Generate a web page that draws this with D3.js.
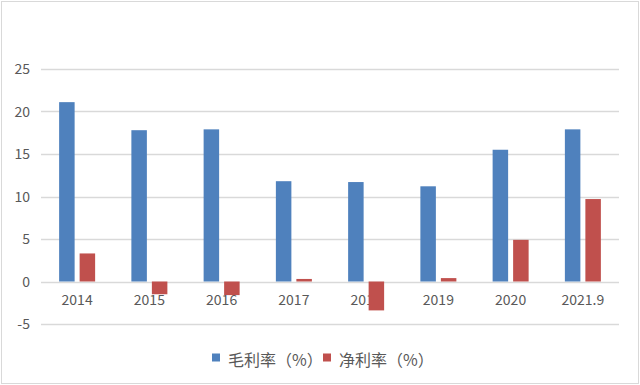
<!DOCTYPE html>
<html>
<head>
<meta charset="utf-8">
<script src="https://cdn.jsdelivr.net/npm/d3@7"></script>
<style>
  body { margin: 0; background: #fff; }
  svg text { font-family: "Noto Sans CJK SC", "Noto Sans", sans-serif; fill: #595959; }
</style>
</head>
<body>
<svg class="chart" width="640" height="385"></svg>
<script>
const years = ['2014', '2015', '2016', '2017', '2018', '2019', '2020', '2021.9']
const grossMargin = [21.1, 17.8, 17.9, 11.8, 11.7, 11.2, 15.5, 17.9]
const netMargin = [3.3, -1.5, -1.6, 0.3, -3.4, 0.4, 4.9, 9.7]
const yTicks = [-5, 0, 5, 10, 15, 20, 25]
const seriesNames = ['毛利率（%）', '净利率（%）']
const colors = ['#4F81BD', '#C0504D']

const svg = d3.select('svg.chart')

// outer frame
svg.append('rect')
  .attr('x', 1.5).attr('y', 1.5)
  .attr('width', 637).attr('height', 382)
  .attr('fill', '#fff')
  .attr('stroke', '#D9D9D9')

const x = d3.scaleBand().domain(years).range([41, 619])
const y = d3.scaleLinear().domain([-5, 25]).range([324, 69])

// gridlines
svg.append('g')
  .selectAll('line')
  .data(yTicks)
  .enter()
  .append('line')
  .attr('x1', 41).attr('x2', 619)
  .attr('y1', d => Math.round(y(d)) + 0.5)
  .attr('y2', d => Math.round(y(d)) + 0.5)
  .attr('stroke', '#D9D9D9')
  .attr('stroke-width', 1.3)

svg.append('g')
  .selectAll('text')
  .data(yTicks)
  .enter()
  .append('text')
  .attr('x', 30)
  .attr('y', d => y(d) + 5)
  .attr('text-anchor', 'end')
  .style('font-size', '14px')
  .text(d => d)

// category labels (under the bars, like the original)
svg.append('g')
  .selectAll('text')
  .data(years)
  .enter()
  .append('text')
  .attr('x', d => x(d) + x.bandwidth() / 2)
  .attr('y', 305)
  .attr('text-anchor', 'middle')
  .style('font-size', '14px')
  .text(d => d)

const barW = 15.5
const barGap = 5
const series = [grossMargin, netMargin]

series.forEach((vals, s) => {
  svg.append('g')
    .selectAll('rect')
    .data(vals)
    .enter()
    .append('rect')
    .attr('x', (d, i) => x(years[i]) + x.bandwidth() / 2 - barW - barGap / 2 + s * (barW + barGap))
    .attr('y', d => y(Math.max(d, 0)))
    .attr('width', barW)
    .attr('height', d => Math.abs(y(d) - y(0)))
    .attr('fill', colors[s])
})

// legend
const legend = svg.append('g')
  .selectAll('g')
  .data(seriesNames)
  .enter()
  .append('g')
  .attr('transform', (d, i) => `translate(${212 + i * 111},357.5)`)

legend.append('rect')
  .attr('x', 0).attr('y', -4)
  .attr('width', 8).attr('height', 8)
  .attr('fill', (d, i) => colors[i])

legend.append('text')
  .attr('x', 16)
  .attr('y', 8)
  .style('font-size', '16px')
  .text(d => d)
</script>
</body>
</html>
